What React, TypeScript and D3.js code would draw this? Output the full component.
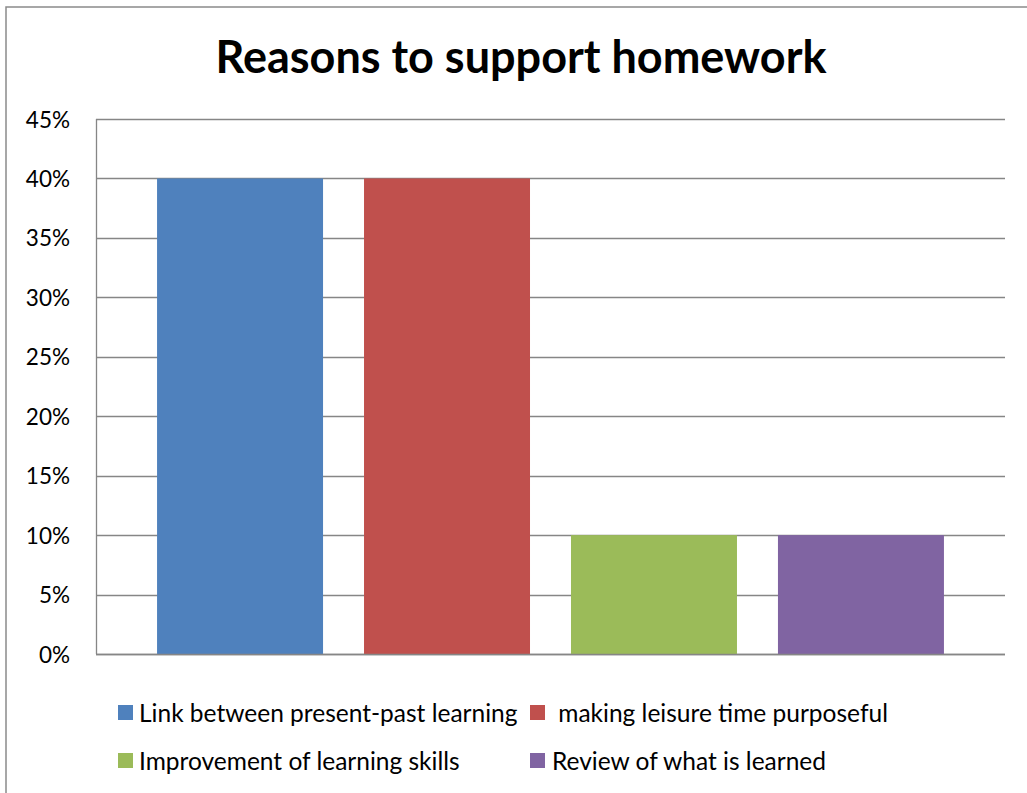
import React from "react";
import * as d3 from "d3";

const categories = [
  "Link between present-past learning",
  " making leisure time purposeful",
  "Improvement of learning skills",
  "Review of what is learned",
];
const values = [0.4, 0.4, 0.1, 0.1];
const colors = ["#4F81BD", "#C0504D", "#9BBB59", "#8064A2"];
const yTicks = [0, 0.05, 0.1, 0.15, 0.2, 0.25, 0.3, 0.35, 0.4, 0.45];
const title = "Reasons to support homework";

const W = 1027;
const H = 793;
const plot = { left: 96, right: 1005, top: 119, bottom: 654 };
const font = "Lato, 'Open Sans', sans-serif";

export default function App() {
  const x = d3
    .scaleBand<string>()
    .domain(categories)
    .range([plot.left, plot.right])
    .paddingInner(0.198)
    .paddingOuter(0.295);
  const y = d3.scaleLinear().domain([0, 0.45]).range([plot.bottom, plot.top]);
  const fmt = d3.format(".0%");

  // legend layout: two rows, two columns
  const legendPos = [
    { mx: 118, tx: 139, y: 712 },
    { mx: 530, tx: 552, y: 712 },
    { mx: 118, tx: 139, y: 760 },
    { mx: 530, tx: 552, y: 760 },
  ];

  return (
    <svg
      width={W}
      height={H}
      style={{ position: "absolute", left: 0, top: 0, background: "#fff" }}
      fontFamily={font}
    >
      <rect x={0} y={0} width={W} height={H} fill="#fff" />
      <rect x={6} y={7} width={1060} height={820} fill="none" stroke="#8a8a8a" strokeWidth={1.5} />
      <text x={521} y={73} textAnchor="middle" fontSize={45} fontWeight={700} fill="#000">
        {title}
      </text>
      {yTicks.map((t) => (
        <g key={t}>
          <line
            x1={plot.left}
            x2={plot.right}
            y1={Math.round(y(t)) + 0.5}
            y2={Math.round(y(t)) + 0.5}
            stroke="#868686"
            strokeWidth={1.3}
          />
          <text
            x={70}
            y={y(t)}
            textAnchor="end"
            dominantBaseline="central"
            fontSize={22.5}
            fill="#000"
          >
            {fmt(t)}
          </text>
        </g>
      ))}
      <line x1={plot.left + 0.5} x2={plot.left + 0.5} y1={plot.top} y2={plot.bottom} stroke="#868686" strokeWidth={1.3} />
      {categories.map((c, i) => (
        <rect
          key={c}
          x={x(c)}
          y={y(values[i])}
          width={x.bandwidth()}
          height={y(0) - y(values[i])}
          fill={colors[i]}
        />
      ))}
      <line x1={plot.left} x2={plot.right} y1={plot.bottom + 0.5} y2={plot.bottom + 0.5} stroke="#868686" strokeWidth={1.3} />
      {categories.map((c, i) => (
        <g key={"lg" + i}>
          <rect x={legendPos[i].mx} y={legendPos[i].y - 7} width={15} height={15} fill={colors[i]} />
          <text
            x={legendPos[i].tx}
            y={legendPos[i].y}
            dominantBaseline="central"
            fontSize={24.5}
            fill="#000"
            style={{ whiteSpace: "pre" }}
          >
            {c}
          </text>
        </g>
      ))}
    </svg>
  );
}
